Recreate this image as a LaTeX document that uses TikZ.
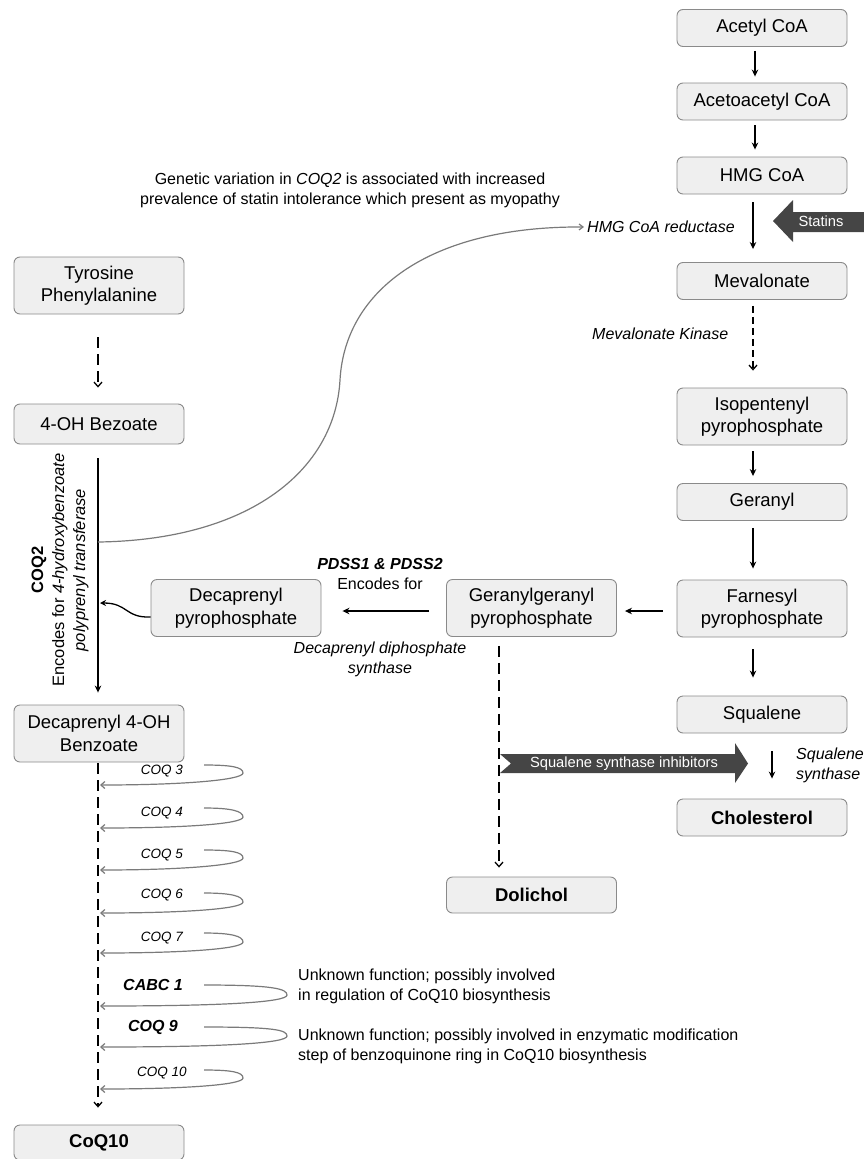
\documentclass[tikz,border=0pt]{standalone}
\usepackage{fontspec}
\setmainfont{Liberation Sans}
\usetikzlibrary{arrows.meta}
\definecolor{boxfill}{HTML}{EFEFEF}
\definecolor{boxdraw}{HTML}{8A8A8A}
\definecolor{darkarrow}{HTML}{454545}
\definecolor{curvegray}{HTML}{7A7A7A}
\begin{document}
\begin{tikzpicture}[x=1pt,y=-1pt,
  basebox/.style={draw=boxdraw, fill=boxfill, rounded corners=6pt, line width=0.9pt,
    minimum width=170pt, align=center, inner sep=2pt, font=\fontsize{18.5}{22.5}\selectfont},
  onebox/.style={basebox, minimum height=37pt},
  twobox/.style={basebox, minimum height=57pt},
  boldbox/.style={basebox, minimum height=37pt, font=\fontsize{18.5}{22.5}\selectfont\bfseries},
  arr/.style={-{Stealth[length=7pt,width=6.5pt]}, line width=1.4pt, black},
  darr/.style={-{Straight Barb[length=4.5pt,width=8pt,line width=1.3pt]}, line width=1.4pt, black, dash pattern=on 11pt off 6pt},
  lbl/.style={font=\fontsize{16}{20}\selectfont, align=center, inner sep=0pt},
  ilbl/.style={lbl, font=\fontsize{16}{19.5}\selectfont\itshape},
  coq/.style={font=\fontsize{13.5}{16}\selectfont\itshape, inner sep=0pt},
  coqb/.style={font=\fontsize{16}{19}\selectfont\bfseries\itshape, inner sep=0pt},
  loopc/.style={curvegray, line width=1.2pt, -{Straight Barb[length=4pt,width=7pt]}},
  whitetxt/.style={text=white, font=\fontsize{14.7}{17}\selectfont, inner sep=0pt},
]
\useasboundingbox (0,0) rectangle (864,1159);

% ---------- right column ----------
\node[onebox] (acetyl) at (762,28) {Acetyl CoA};
\node[onebox] (acetoacetyl) at (762,101.5) {Acetoacetyl CoA};
\node[onebox] (hmg) at (762,175.5) {HMG CoA};
\node[onebox] (mev) at (762,281) {Mevalonate};
\node[twobox] (ipp) at (762,416.5) {Isopentenyl\\pyrophosphate};
\node[onebox] (geranyl) at (762,502) {Geranyl};
\node[twobox] (fpp) at (762,608.5) {Farnesyl\\pyrophosphate};
\node[onebox] (squalene) at (762,714.5) {Squalene};
\node[boldbox] (chol) at (762,817.5) {Cholesterol};

% ---------- middle ----------
\node[twobox] (ggpp) at (531.5,608) {Geranylgeranyl\\pyrophosphate};
\node[boldbox, minimum height=36pt] (dolichol) at (531.5,895) {Dolichol};
\node[twobox] (dpp) at (236,608) {Decaprenyl\\pyrophosphate};

% ---------- left column ----------
\node[twobox] (tyr) at (99,285.5) {Tyrosine\\Phenylalanine};
\node[onebox, minimum height=40pt] (ohb) at (99,424) {4-OH Bezoate};
\node[twobox] (d4ohb) at (99,733.5) {Decaprenyl 4-OH\\Benzoate};
\node[boldbox, minimum height=35pt] (coq10) at (99,1142.5) {CoQ10};

% ---------- right column arrows ----------
\draw[arr] ([xshift=-7pt,yshift=-4pt]acetyl.south) -- ([xshift=-7pt,yshift=6pt]acetoacetyl.north);
\draw[arr] ([xshift=-7pt,yshift=-5pt]acetoacetyl.south) -- ([xshift=-7pt,yshift=7pt]hmg.north);
\draw[arr] ([xshift=-9pt,yshift=-8pt]hmg.south) -- ([xshift=-9pt,yshift=13pt]mev.north);
\draw[darr, dash pattern=on 7pt off 4pt] ([xshift=-9pt,yshift=-6pt]mev.south) -- ([xshift=-9pt,yshift=17pt]ipp.north);
\draw[arr] ([xshift=-9pt,yshift=-6pt]ipp.south) -- ([xshift=-9pt,yshift=7pt]geranyl.north);
\draw[arr] ([xshift=-9pt,yshift=-7pt]geranyl.south) -- ([xshift=-9pt,yshift=11pt]fpp.north);
\draw[arr] ([xshift=-9pt,yshift=-12pt]fpp.south) -- ([xshift=-9pt,yshift=18pt]squalene.north);
\draw[arr] ([xshift=10pt,yshift=-18pt]squalene.south) -- ([xshift=10pt,yshift=20pt]chol.north);

\node[ilbl, anchor=west] (mevk) at (592,334) {Mevalonate Kinase};
\node[ilbl, anchor=north west, align=left] (sqsyn) at (796,748) {Squalene\\synthase};

% horizontal arrows
\draw[arr] ([xshift=-14pt,yshift=-2.5pt]fpp.west) -- ([xshift=8pt,yshift=-3pt]ggpp.east);
\draw[arr] ([xshift=-17pt,yshift=-3pt]ggpp.west) -- ([xshift=21pt,yshift=-3pt]dpp.east);
\node[lbl, font=\fontsize{16}{20}\selectfont] (pdss) at (380,574) {\textbf{\textit{PDSS1 \& PDSS2}}\\Encodes for};
\node[ilbl] (ddsyn) at (380,659.5) {Decaprenyl diphosphate\\synthase};

% dolichol
\draw[darr] ([xshift=-32.5pt,yshift=-9pt]ggpp.south) -- ([xshift=-32.5pt,yshift=9pt]dolichol.north);

% statins block arrow
\fill[darkarrow] (773,221) -- (793,200) -- (793,212) -- (866,212) -- (866,232) -- (793,232) -- (793,242) -- cycle;
\node[whitetxt] (statins) at (821,221) {Statins};

% squalene synthase inhibitors block arrow
\fill[darkarrow] (500,754) -- (735,754) -- (735,743) -- (748,763.5) -- (735,783) -- (735,773) -- (500,773) -- (511,763.5) -- cycle;
\node[whitetxt] (ssi) at (624,763.5) {Squalene synthase inhibitors};

% ---------- left column arrows ----------
\draw[darr] ([xshift=-1pt,yshift=-23pt]tyr.south) -- ([xshift=-1pt,yshift=16pt]ohb.north);
\draw[arr] ([xshift=-1pt,yshift=-14pt]ohb.south) -- ([xshift=-1pt,yshift=12pt]d4ohb.north);
\draw[darr] ([xshift=-1pt,yshift=-1pt]d4ohb.south) -- ([xshift=-1pt,yshift=17pt]coq10.north);

\node[rotate=90, align=center, font=\fontsize{16.5}{21}\selectfont, inner sep=0pt] (coq2lbl) at (60,570)
  {\textbf{COQ2}\\Encodes for \textit{4-hydroxybenzoate}\\\textit{polyprenyl transferase}};

% decaprenyl pyrophosphate into COQ2 step
\coordinate (dppin) at (100,603);
\draw[-{Stealth[length=6pt,width=6pt]}, line width=1.3pt] ([yshift=-9pt]dpp.west) .. controls (125,618) and (128,603) .. (dppin);

% statin intolerance curve
\node[lbl] (genetic) at (350,190) {Genetic variation in \textit{COQ2} is associated with increased\\prevalence of statin intolerance which present as myopathy};
\node[ilbl, anchor=west] (hmgred) at (587,227) {HMG CoA reductase};
\coordinate (coq2start) at (98,542);
\draw[curvegray, line width=1.2pt, -{Straight Barb[length=4pt,width=6pt]}] (coq2start)
  .. controls (250,540) and (335,470) .. (340,380)
  .. controls (345,290) and (430,226) .. ([xshift=-3pt]hmgred.west);

% ---------- COQ loops ----------
\node[coq] (c3) at (162,771) {COQ 3};
\node[coq] (c4) at (162,813) {COQ 4};
\node[coq] (c5) at (162,855) {COQ 5};
\node[coq] (c6) at (162,895) {COQ 6};
\node[coq] (c7) at (162,938) {COQ 7};
\node[coqb] (cabc) at (153,985) {CABC 1};
\node[coqb] (c9) at (153,1027) {COQ 9};
\node[coq] (c10) at (162,1073) {COQ 10};

\foreach \u/\m/\l/\xr in {765/773/785/243, 808/817/828/243, 850/858/870/243, 893/902/913/243,
    933/942/953/243, 985/995/1006/287, 1027/1036/1047/287, 1070/1078/1089/243} {
  \draw[loopc] (204,\u) .. controls (\xr-12,\u) and (\xr,\m-6) .. (\xr,\m)
     .. controls (\xr,\m+7) and (\xr-60,\l) .. (100,\l);
}

\node[lbl, anchor=west, align=left, font=\fontsize{16}{19.5}\selectfont] (cabcnote) at (298,986.5)
  {Unknown function; possibly involved\\in regulation of CoQ10 biosynthesis};
\node[lbl, anchor=west, align=left, font=\fontsize{16}{19.5}\selectfont] (coq9note) at (298,1046.5)
  {Unknown function; possibly involved in enzymatic modification\\step of benzoquinone ring in CoQ10 biosynthesis};
\end{tikzpicture}
\end{document}
